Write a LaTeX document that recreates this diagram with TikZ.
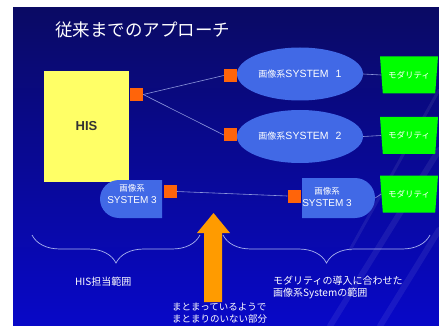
\documentclass[tikz,border=0pt]{standalone}
\usepackage{fontspec}
\setmainfont{Liberation Sans}
\newfontfamily\cjk{Noto Sans CJK JP}
\usetikzlibrary{shapes.geometric,shapes.misc,decorations.pathreplacing}
\definecolor{bgtop}{RGB}{10,10,100}
\definecolor{bgbot}{RGB}{8,8,200}
\definecolor{ellblue}{RGB}{65,105,230}
\definecolor{sqorange}{RGB}{255,100,10}
\definecolor{arrorange}{RGB}{255,155,0}
\definecolor{hisyellow}{RGB}{255,255,102}
\definecolor{modgreen}{RGB}{0,255,0}
\definecolor{linecol}{RGB}{140,150,220}
\definecolor{bracecol}{RGB}{170,180,240}
\begin{document}
\begin{tikzpicture}[x=1pt,y=-1pt,
  conn/.style={draw=linecol, line width=0.6pt},
  port/.style={fill=sqorange, minimum size=13pt, inner sep=0pt},
  sysell/.style={ellipse, fill=ellblue, minimum width=126pt, minimum height=53pt, inner sep=0pt, text=white},
  sysd/.style={rounded rectangle, fill=ellblue, inner sep=0pt},
  systext/.style={text=white, align=center, inner sep=0pt},
  modal/.style={trapezium, trapezium angle=74, shape border rotate=180, fill=modgreen,
    minimum width=58pt, minimum height=37pt, trapezium stretches=true, inner sep=0pt,
    text=white, font=\cjk\fontsize{8.5}{9}\selectfont},
  lbl/.style={text=white, align=left, inner sep=0pt, font=\cjk\fontsize{10}{12.5}\selectfont},
  bracestyle/.style={draw=bracecol, line width=0.7pt, decorate, decoration={brace, mirror, amplitude=28pt}}
]
\useasboundingbox (0,0) rectangle (439,326);
\fill[white] (0,0) rectangle (439,326);
\shade[top color=bgtop, bottom color=bgbot] (13,8) rectangle (439,326);
\begin{scope}[white, opacity=0.07, line width=6pt, line cap=round]
  \draw (439,150) -- (330,326);
  \draw (439,230) -- (380,326);
  \draw[line width=3pt] (439,90) -- (350,250);
\end{scope}

% title
\node[anchor=west, text=white, inner sep=0pt, font=\cjk\fontsize{17.5}{20}\selectfont] (title) at (55,30) {従来までのアプローチ};

% HIS
\node[fill=hisyellow, minimum width=85pt, minimum height=111pt, inner sep=0pt, text=black!80,
  font=\fontsize{13}{15}\selectfont\bfseries] (his) at (86.5,126.5) {HIS};

% ports
\node[port] (phis) at (136.5,94.5) {};
\node[port] (p1) at (230.5,75.5) {};
\node[port] (p2) at (230.5,135) {};
\node[port] (p3l) at (170,191.5) {};
\node[port] (p3r) at (294,196) {};

% systems
\node[sysell] (s1) at (300,74) {\fontsize{10.5}{12}\selectfont{\cjk\fontsize{9}{10}\selectfont 画像系}SYSTEM\hspace{7pt}1};
\node[sysell] (s2) at (300,136.5) {\fontsize{10.5}{12}\selectfont{\cjk\fontsize{9}{10}\selectfont 画像系}SYSTEM\hspace{7pt}2};
\node[sysd, rounded rectangle right arc=none, minimum width=62pt, minimum height=38pt] (s3l) at (131,199) {};
\node[systext] (s3lt) at (132,194) {\fontsize{10}{13.5}\selectfont{\cjk\fontsize{8.5}{10}\selectfont 画像系}\\SYSTEM 3};
\node[sysd, rounded rectangle left arc=none, minimum width=73pt, minimum height=40pt] (s3r) at (338.5,198) {};
\node[systext] (s3rt) at (327,197) {\fontsize{10}{13.5}\selectfont{\cjk\fontsize{8.5}{10}\selectfont 画像系}\\SYSTEM 3};

% modalities
\node[modal] (m1) at (409,75) {モダリティ};
\node[modal] (m2) at (409,135.5) {モダリティ};
\node[modal] (m3) at (409,194) {モダリティ};

% connectors
\draw[conn] (phis.east) -- (p1.west);
\draw[conn] (phis.east) -- (p2.west);
\draw[conn] (s1.east) -- (m1.west);
\draw[conn] (s2.east) -- (m2.west);
\draw[conn] (p3l.east) -- (p3r.west);
\draw[conn] (s3r.east) -- (m3.west);

% arrow
\fill[arrorange] (204,302) -- (204,233) -- (197,233) -- (213.5,213) -- (230,233) -- (222,233) -- (222,302) -- cycle;

% braces
\coordinate (bl1) at (32,235);
\coordinate (bl2) at (200,235);
\coordinate (br1) at (223,235);
\coordinate (br2) at (430,235);
\draw[bracestyle] (bl1) -- (bl2);
\draw[bracestyle] (br1) -- (br2);

% labels
\node[lbl, anchor=west] (lhis) at (75,282) {HIS担当範囲};
\node[lbl, anchor=north west] (lmod) at (273,275.4) {モダリティの導入に合わせた\\画像系Systemの範囲};
\node[lbl, anchor=north west, font=\cjk\fontsize{9.5}{12}\selectfont] (lmid) at (172,302.6) {まとまっているようで\\まとまりのいない部分};
\end{tikzpicture}
\end{document}
